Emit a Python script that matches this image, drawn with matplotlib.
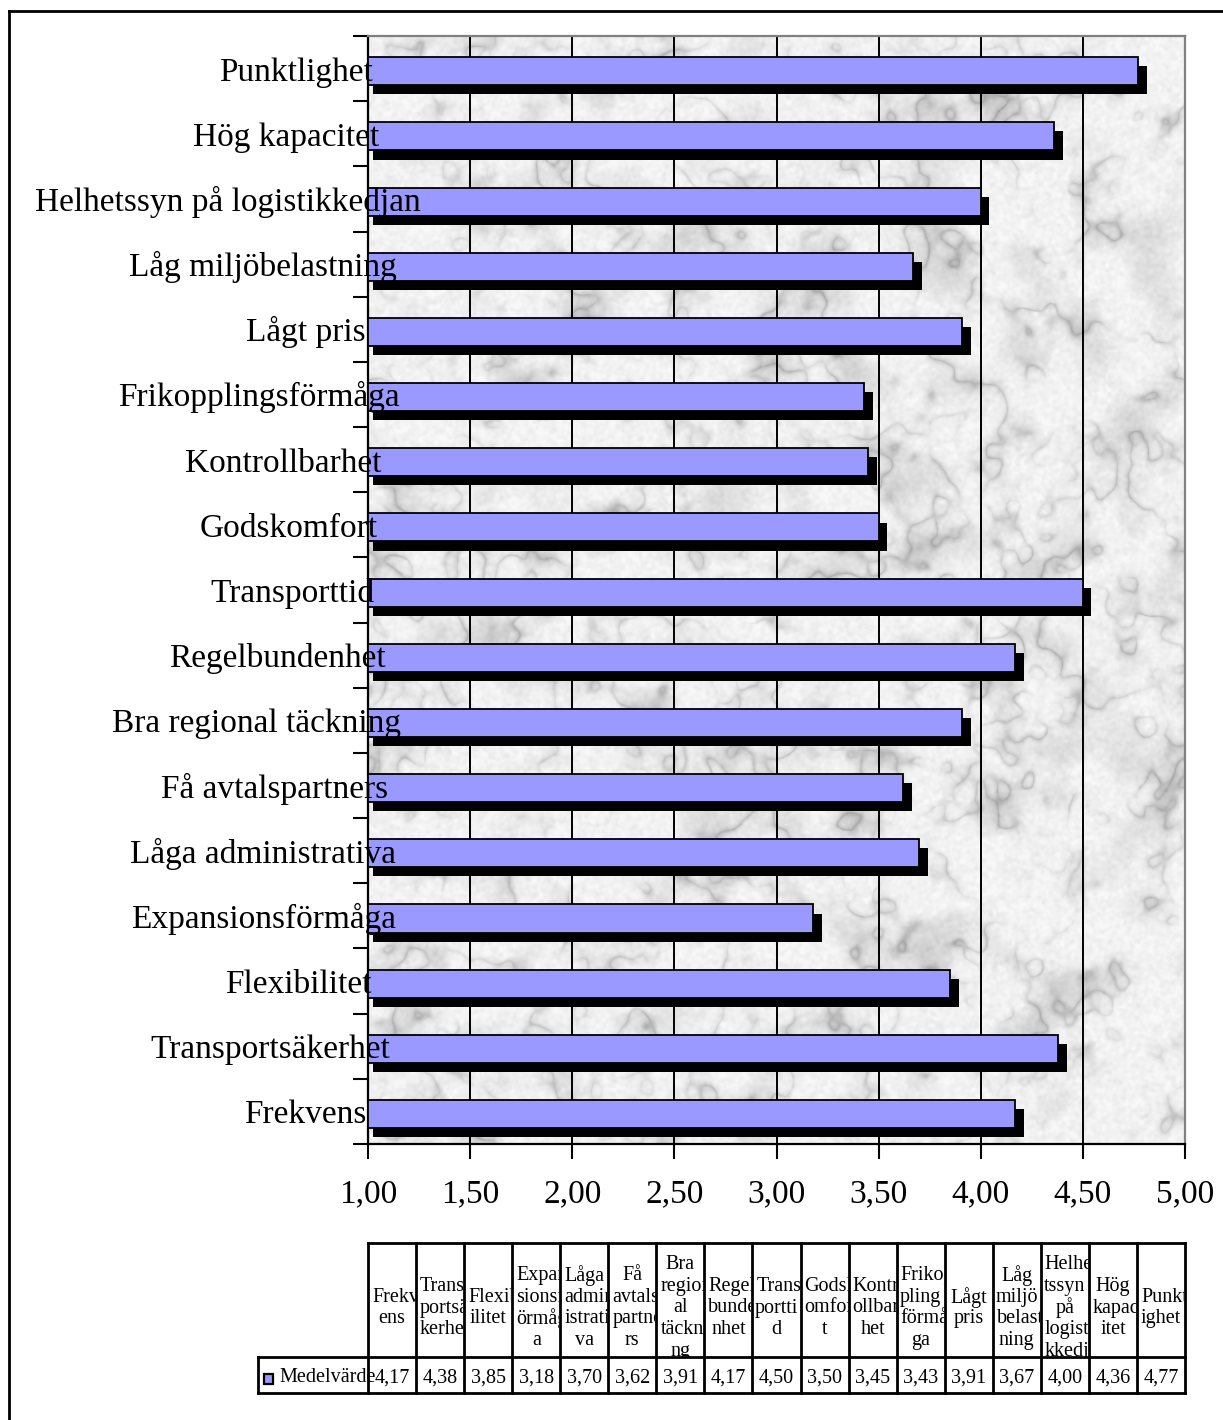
import numpy as np
import matplotlib.pyplot as plt
import matplotlib.transforms as mtransforms
from matplotlib.patches import Rectangle
from matplotlib.lines import Line2D

plt.rcParams['font.family'] = ['Liberation Serif', 'DejaVu Serif']

# categories bottom -> top, same order as the table columns
categories = ['Frekvens', 'Transportsäkerhet', 'Flexibilitet', 'Expansionsförmåga',
              'Låga administrativa', 'Få avtalspartners', 'Bra regional täckning',
              'Regelbundenhet', 'Transporttid', 'Godskomfort', 'Kontrollbarhet',
              'Frikopplingsförmåga', 'Lågt pris', 'Låg miljöbelastning',
              'Helhetssyn på logistikkedjan', 'Hög kapacitet', 'Punktlighet']
values = [4.17, 4.38, 3.85, 3.18, 3.70, 3.62, 3.91, 4.17, 4.50, 3.50, 3.45,
          3.43, 3.91, 3.67, 4.00, 4.36, 4.77]
series_name = 'Medelvärde'

# wrapped column headers of the data table
header_lines = [['Frekv', 'ens'], ['Trans', 'portsä', 'kerhet'], ['Flexib', 'ilitet'],
                ['Expan', 'sionsf', 'örmåg', 'a'], ['Låga', 'admin', 'istrati', 'va'],
                ['Få', 'avtals', 'partne', 'rs'], ['Bra', 'region', 'al', 'täckni', 'ng'],
                ['Regel', 'bunde', 'nhet'], ['Trans', 'portti', 'd'], ['Godsk', 'omfor', 't'],
                ['Kontr', 'ollbar', 'het'], ['Frikop', 'pling', 'förmå', 'ga'], ['Lågt', 'pris'],
                ['Låg', 'miljö', 'belast', 'ning'], ['Helhe', 'tssyn', 'på', 'logisti', 'kkedja'],
                ['Hög', 'kapac', 'itet'], ['Punkt', 'ighet']]

xticks = [1.0, 1.5, 2.0, 2.5, 3.0, 3.5, 4.0, 4.5, 5.0]
xticklabels = ['1,00', '1,50', '2,00', '2,50', '3,00', '3,50', '4,00', '4,50', '5,00']

bar_color = '#9999ff'
W, H = 1223, 1420

def fx(px):
    return px / W

def fy(py):
    return 1 - py / H

def marble(h, w, seed=11):
    # grey marble-like fill for the plot area
    rng = np.random.default_rng(seed)
    ky = np.fft.fftfreq(h)[:, None]
    kx = np.fft.fftfreq(w)[None, :]
    def smooth(s):
        a = rng.standard_normal((h, w))
        g = np.exp(-2 * (np.pi * s) ** 2 * (kx ** 2 + ky ** 2))
        out = np.real(np.fft.ifft2(np.fft.fft2(a) * g))
        return out / out.std()
    base = smooth(24)
    mid = smooth(6)
    mid2 = smooth(14)
    grain = smooth(1.5)
    veins = np.exp(-np.abs(base + 0.6 * mid) / 0.35) * (0.5 + 0.5 * np.tanh(mid2 + 0.3))
    blot = np.clip(mid2, 0, None)
    g = 0.95 - 0.19 * veins - 0.04 * blot + 0.012 * grain
    return np.clip(g, 0.6, 0.97)

fig = plt.figure(figsize=(W / 100, H / 100), dpi=100)

# frame around the whole chart
fig.add_artist(Line2D([fx(9), fx(9)], [0, fy(11)], color='black', lw=2))
fig.add_artist(Line2D([fx(9), 1], [fy(11), fy(11)], color='black', lw=2))

ax = fig.add_axes([fx(368), fy(1144), fx(1185) - fx(368), (1144 - 36) / H])
n = len(categories)
y = np.arange(n)
vals = np.array(values)

ax.imshow(marble(1108, 817), extent=[1, 5, -0.5, n - 0.5], aspect='auto',
          cmap='gray', vmin=0, vmax=1, zorder=0, interpolation='bilinear')
for x in xticks[1:-1]:
    ax.axvline(x, color='black', lw=1.4, zorder=1)

# shadow first, then the bars on top
ax.barh(y - 0.04 - 0.14, vals - 0.983, left=1.025, height=0.43, color='black', zorder=2)
ax.barh(y - 0.04, vals - 1, left=1, height=0.43, color=bar_color,
        edgecolor='black', lw=1.3, zorder=3)

ax.set_xlim(1, 5)
ax.set_ylim(-0.5, n - 0.5)
ax.set_xticks(xticks)
ax.set_xticklabels(xticklabels, fontsize=24)
ax.tick_params(axis='x', direction='out', length=11, width=1.5, pad=14)
ax.set_yticks(np.arange(-0.5, n, 1))
ax.set_yticklabels([])
ax.tick_params(axis='y', direction='out', length=11, width=1.5)
for s in ['left', 'bottom']:
    ax.spines[s].set_linewidth(1.6)
for s in ['top', 'right']:
    ax.spines[s].set_color('#808080')
    ax.spines[s].set_linewidth(1.6)

trans = mtransforms.blended_transform_factory(fig.transFigure, ax.transData)
labels = [ax.text(0, yi - 0.184, name, transform=trans, ha='left', va='baseline',
                  fontsize=24, zorder=5) for yi, name in zip(y, categories)]

# data table under the chart, in pixel units
tax = fig.add_axes([fx(258), fy(1393), fx(1185) - fx(258), (1393 - 1243) / H])
tax.set_xlim(258, 1185)
tax.set_ylim(1393, 1243)
tax.axis('off')
x0, x1 = 368, 1185
cw = (x1 - x0) / n
top, mid_y, bot = 1243, 1357, 1393
lw = 2
for i in range(n + 1):
    tax.plot([x0 + i * cw] * 2, [top, bot], color='black', lw=lw, clip_on=False)
tax.plot([x0, x1], [top, top], color='black', lw=lw, clip_on=False)
tax.plot([258, x1], [mid_y, mid_y], color='black', lw=lw, clip_on=False)
tax.plot([258, x1], [bot, bot], color='black', lw=lw, clip_on=False)
tax.plot([258, 258], [mid_y, bot], color='black', lw=lw, clip_on=False)

tax.add_patch(Rectangle((264, 1374), 9, 10, facecolor=bar_color, edgecolor='black',
                        lw=1.6, clip_on=False))
tax.text(279, 1378, series_name, ha='left', va='center', fontsize=14.5)

head_texts = []
for i, lines in enumerate(header_lines):
    cx = x0 + (i + 0.5) * cw
    clip = Rectangle((x0 + i * cw + 1, top), cw - 2, mid_y - top, transform=tax.transData)
    k = len(lines)
    for j, line in enumerate(lines):
        t = tax.text(cx, 1308 + (j - (k - 1) / 2) * 21.7, line, ha='center',
                     va='center', fontsize=14.5)
        t.set_clip_on(True)
        t.set_clip_path(clip)
        head_texts.append((t, i))
for i, v in enumerate(values):
    tax.text(x0 + (i + 0.5) * cw, 1378, ('%.2f' % v).replace('.', ','),
             ha='center', va='center', fontsize=14.5)

fig.canvas.draw()
renderer = fig.canvas.get_renderer()
for t in labels:
    w = t.get_window_extent(renderer).width
    t.set_x(fx(341 - 0.793 * w))
for t, i in head_texts:
    w = t.get_window_extent(renderer).width
    if w > cw - 4:
        t.set_ha('left')
        t.set_x(x0 + i * cw + 4)

fig.savefig('out.png', dpi=100)
